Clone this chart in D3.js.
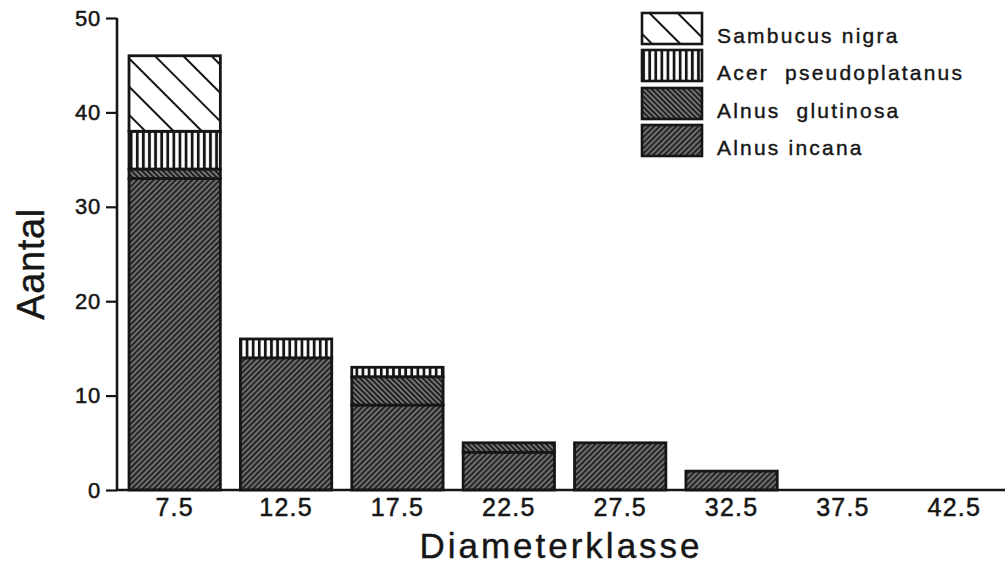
<!DOCTYPE html>
<html><head><meta charset="utf-8">
<script src="https://cdn.jsdelivr.net/npm/d3@7"></script>
<style>body{margin:0;background:#fff}svg{display:block}</style>
</head><body>
<svg id="c" width="1005" height="570"></svg>
<script>
const categories = ["7.5","12.5","17.5","22.5","27.5","32.5","37.5","42.5"];
const alnusIncana    = [33, 14, 9, 4, 5, 2, 0, 0];
const alnusGlutinosa = [1, 0, 3, 1, 0, 0, 0, 0];
const acerPseudo     = [4, 2, 1, 0, 0, 0, 0, 0];
const sambucusNigra  = [8, 0, 0, 0, 0, 0, 0, 0];
const yTicks = [0, 10, 20, 30, 40, 50];
const seriesNames = ["Alnus incana","Alnus  glutinosa","Acer  pseudoplatanus","Sambucus nigra"];
const seriesKeys = ["incana","glutinosa","acer","sambucus"];

const svg = d3.select("#c");
const font = "'Liberation Sans', Arial, sans-serif";
const ink = "#161616";
const defs = svg.append("defs");

function hatch(id, spacing, lw, angle, bg, fg){
  const p = defs.append("pattern").attr("id", id).attr("patternUnits","userSpaceOnUse")
    .attr("width", spacing).attr("height", spacing)
    .attr("patternTransform", `rotate(${angle})`);
  p.append("rect").attr("width", spacing).attr("height", spacing).attr("fill", bg);
  p.append("line").attr("x1", spacing/2).attr("x2", spacing/2).attr("y1", -1).attr("y2", spacing+1)
    .attr("stroke", fg).attr("stroke-width", lw);
}
hatch("p-sambucus", 20, 2, -45, "#fff", ink);
hatch("p-acer", 6.1, 2.8, 0, "#fff", ink);
hatch("p-glutinosa", 3.7, 2.6, -45, "#b0b0b0", "#1e1e1e");
hatch("p-incana", 3.9, 2.8, 45, "#a8a8a8", "#242424");

const x = d3.scaleBand().domain(categories).range([119, 1010]).paddingInner(0.18).paddingOuter(0.09);
const y = d3.scaleLinear().domain([0, 50]).range([490, 18]);

const table = categories.map((c, i) => ({cat: c, incana: alnusIncana[i], glutinosa: alnusGlutinosa[i], acer: acerPseudo[i], sambucus: sambucusNigra[i]}));
const stacked = d3.stack().keys(seriesKeys)(table);

const g = svg.append("g");
stacked.forEach(layer => {
  g.selectAll(null).data(layer.filter(d => d[1] - d[0] > 0)).enter().append("rect")
    .attr("x", d => x(d.data.cat))
    .attr("width", x.bandwidth())
    .attr("y", d => y(d[1]))
    .attr("height", d => y(d[0]) - y(d[1]))
    .attr("fill", `url(#p-${layer.key})`)
    .attr("stroke", ink).attr("stroke-width", 2.8);
});

// Y axis
const yAxis = svg.append("g").attr("transform", "translate(117,0)")
  .call(d3.axisLeft(y).tickValues(yTicks).tickSize(11).tickPadding(5).tickFormat(d3.format("d")));
yAxis.select(".domain").attr("stroke", ink).attr("stroke-width", 2.6).attr("d", `M0,${y(50)}V${y(0)+1}`);
yAxis.selectAll(".tick line").attr("stroke", ink).attr("stroke-width", 2.2);
yAxis.selectAll("text").attr("font-family", font).attr("font-size", 22).attr("letter-spacing", 0.8)
  .attr("fill", ink).attr("stroke", ink).attr("stroke-width", 0.5);

// X axis
const xAxis = svg.append("g").attr("transform", "translate(0,490)")
  .call(d3.axisBottom(x).tickSize(0).tickPadding(8));
xAxis.select(".domain").attr("stroke", ink).attr("stroke-width", 2.4).attr("d", "M116,0H1005");
xAxis.selectAll("text").attr("font-family", font).attr("font-size", 25).attr("letter-spacing", 1.2)
  .attr("fill", ink).attr("stroke", ink).attr("stroke-width", 0.5);

// Axis titles
svg.append("text").attr("x", 561).attr("y", 558).attr("text-anchor", "middle")
  .attr("font-family", font).attr("font-size", 35).attr("letter-spacing", 3)
  .attr("fill", ink).attr("stroke", ink).attr("stroke-width", 0.4).text("Diameterklasse");
svg.append("text").attr("transform", "translate(44,264) rotate(-90)").attr("text-anchor", "middle")
  .attr("font-family", font).attr("font-size", 38).attr("letter-spacing", 0.6)
  .attr("fill", ink).attr("stroke", ink).attr("stroke-width", 0.4).text("Aantal");

// Legend
const legendOrder = [3, 2, 1, 0];
const lg = svg.append("g");
const rowY = [13, 50, 88, 125];
legendOrder.forEach((si, i) => {
  lg.append("rect").attr("x", 642).attr("y", rowY[i]).attr("width", 60).attr("height", 31)
    .attr("fill", `url(#p-${seriesKeys[si]})`).attr("stroke", ink).attr("stroke-width", 2.6);
  lg.append("text").attr("x", 717).attr("y", rowY[i] + 30).attr("font-family", font)
    .attr("font-size", 21).attr("letter-spacing", 2.2).attr("fill", ink)
    .attr("stroke", ink).attr("stroke-width", 0.4)
    .attr("xml:space", "preserve").style("white-space", "pre").text(seriesNames[si]);
});
</script>
</body></html>
